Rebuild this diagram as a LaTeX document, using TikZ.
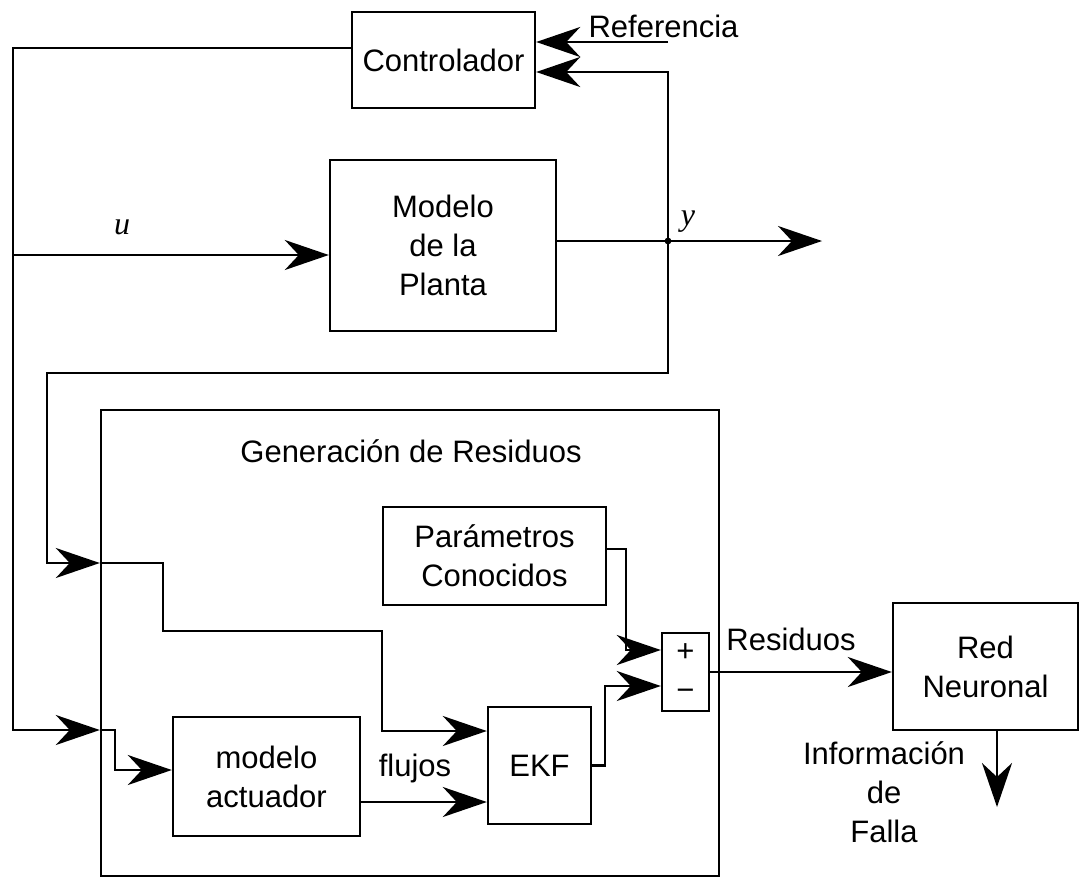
\documentclass[tikz,border=0pt]{standalone}
\usepackage{fontspec}
\setmainfont{Liberation Sans}
\newfontfamily\varfont{Liberation Serif}
\usetikzlibrary{arrows.meta}
\begin{document}
\begin{tikzpicture}[x=0.5pt,y=-0.5pt,
  line width=1.2pt,
  font=\fontsize{15.5pt}{19.5pt}\selectfont,
  block/.style={draw, rectangle, inner sep=0pt, align=center},
  lbl/.style={inner sep=0pt, align=center},
  arr/.style={-{Stealth[length=22pt,width=15pt,inset=7pt]}},
  var/.style={font=\fontsize{16pt}{19.5pt}\varfont\itshape, inner sep=0pt}
]
\useasboundingbox (0,0) rectangle (1080,879);

% blocks
\node[block, minimum width=309pt, minimum height=233pt] (gen) at (410,643) {};
\node[block, minimum width=91.5pt, minimum height=48pt] (ctrl) at (443.5,60) {Controlador};
\node[block, minimum width=113pt, minimum height=85.5pt] (plant) at (443,245.5) {Modelo\\de la\\Planta};
\node[block, minimum width=111.5pt, minimum height=49pt] (par) at (494.5,556) {Parámetros\\Conocidos};
\node[block, minimum width=23.5pt, minimum height=39pt] (sum) at (685.5,672) {+\\−};
\node[block, minimum width=51.5pt, minimum height=58.5pt] (ekf) at (539.5,765.5) {EKF};
\node[block, minimum width=93.5pt, minimum height=59.5pt] (act) at (266.5,776.5) {modelo\\actuador};
\node[block, minimum width=92.5pt, minimum height=63.5pt] (red) at (985.5,666.5) {Red\\Neuronal};

% labels
\node[lbl, anchor=base] (gentitle) at (411,462) {Generación de Residuos};
\node[lbl, anchor=base] (reftxt) at (663.5,37) {Referencia};
\node[var, anchor=base] (utxt) at (122,234) {u};
\node[var, anchor=base] (ytxt) at (688,225) {y};
\node[lbl, anchor=base] (restxt) at (791,650) {Residuos};
\node[lbl, anchor=base] (flutxt) at (415,776) {flujos};
\node[lbl] (faltxt) at (884,792) {Información\\de\\Falla};

% branch and bend points
\coordinate (junc) at (668,241);
\coordinate (refin) at (668,42);
\coordinate (fbtop) at (668,72);
\coordinate (ctl) at (13,48);
\coordinate (ubr) at (13,255);
\coordinate (tbot) at (13,730);
\coordinate (yout) at (822,241);
\coordinate (fbbot) at (668,373);
\coordinate (fbl) at (47,373);
\coordinate (fbin) at (47,563);
\coordinate (s1) at (163,563);
\coordinate (s2) at (163,631);
\coordinate (s3) at (382,631);
\coordinate (s4) at (382,731);
\coordinate (a1) at (115,730);
\coordinate (a2) at (115,770);
\coordinate (fl) at (360,802);
\coordinate (e1) at (605,765.5);
\coordinate (e2) at (605,686);
\coordinate (p0) at (606,549);
\coordinate (p1) at (626,549);
\coordinate (p2) at (626,650);
\coordinate (fout) at (997,807);

% controller loop
\draw[arr] (refin) -- (refin -| ctrl.east);
\draw[arr] (junc) -- (fbtop) -- (fbtop -| ctrl.east);
\draw[arr] (ctrl.west |- ctl) -- (ctl) -- (tbot) -- (tbot -| gen.west);
\draw[arr] (ubr) -- (ubr -| plant.west);
\draw[arr] (plant.east |- junc) -- (yout);
\fill (junc) circle[radius=1.7pt];

% measured output into the residual generator
\draw[arr] (junc) -- (fbbot) -- (fbl) -- (fbin) -- (fbin -| gen.west);
\draw[arr] (fbin -| gen.west) -- (s1) -- (s2) -- (s3) -- (s4) -- (s4 -| ekf.west);

% control signal into the actuator model
\draw[arr] (tbot -| gen.west) -- (a1) -- (a2) -- (a2 -| act.west);
\draw[arr] (fl -| act.east) -- (fl -| ekf.west);

% comparison
\draw[arr] (ekf.east) -- (e1) -- (e2) -- (e2 -| sum.west);
\draw[arr] (p0 -| par.east) -- (p1) -- (p2) -- (p2 -| sum.west);
\draw[arr] (sum.east) -- (sum.east -| red.west);
\draw[arr] (fout |- red.south) -- (fout);
\end{tikzpicture}
\end{document}
